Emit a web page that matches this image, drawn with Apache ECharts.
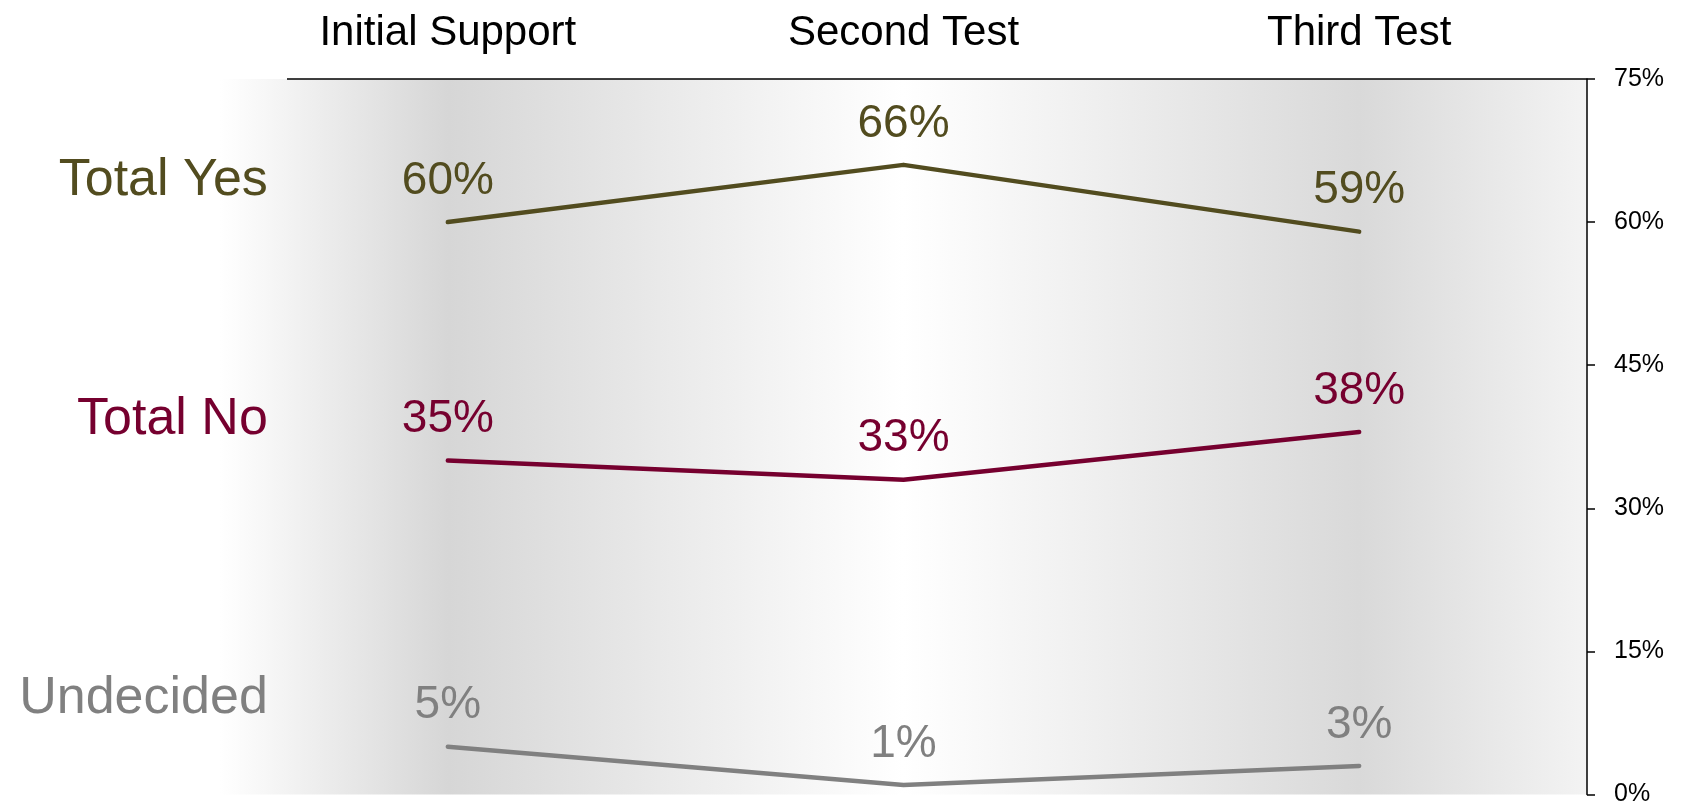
<!DOCTYPE html>
<html>
<head>
<meta charset="utf-8">
<script src="https://cdn.jsdelivr.net/npm/echarts@6/dist/echarts.min.js"></script>
<style>
html,body{margin:0;padding:0;background:#fff;}
#chart{width:1681px;height:807px;}
</style>
</head>
<body>
<div id="chart"></div>
<script>
const categories = ['Initial Support', 'Second Test', 'Third Test'];
const seriesNames = ['Total Yes', 'Total No', 'Undecided'];
const totalYes = [60, 66, 59];
const totalNo = [35, 33, 38];
const undecided = [5, 1, 3];
const yTicks = [0, 15, 30, 45, 60, 75];

const colors = ['#524c1f', '#76002f', '#808080'];
const nameOffsets = [-41, -41, -48];
const FONT = '"Liberation Sans", Arial, sans-serif';

const chart = echarts.init(document.getElementById('chart'), null, {renderer: 'canvas'});

function makeSeries(name, data, idx) {
  return {
    name: name,
    type: 'line',
    data: data,
    symbol: 'circle',
    symbolSize: 0,
    showSymbol: true,
    lineStyle: {color: colors[idx], width: 4.5, cap: 'round', join: 'round'},
    itemStyle: {color: colors[idx]},
    label: {
      show: true,
      position: 'top',
      distance: 18,
      formatter: '{c}%',
      color: colors[idx],
      fontSize: 46,
      fontFamily: FONT
    },
    markPoint: {
      symbol: 'circle',
      symbolSize: 0,
      silent: true,
      data: [{coord: [0, data[0]], value: name}],
      label: {
        show: true,
        position: 'left',
        distance: 180,
        offset: [0, nameOffsets[idx]],
        formatter: name,
        color: colors[idx],
        fontSize: 52,
        fontFamily: FONT
      }
    },
    animation: false
  };
}

chart.setOption({
  animation: false,
  backgroundColor: '#ffffff',
  grid: {
    left: 220, right: 94, top: 79, bottom: 10,
    show: true,
    borderWidth: 0,
    backgroundColor: new echarts.graphic.LinearGradient(0, 0, 1, 0, [
      {offset: 0, color: '#ffffff'},
      {offset: 0.167, color: '#d6d6d6'},
      {offset: 0.5, color: '#ffffff'},
      {offset: 0.833, color: '#d9d9d9'},
      {offset: 1, color: '#f3f3f3'}
    ])
  },
  xAxis: {
    type: 'category',
    position: 'top',
    data: categories,
    boundaryGap: true,
    axisLine: {show: false},
    axisTick: {show: false},
    axisLabel: {
      margin: 25,
      color: '#000',
      fontSize: 42,
      fontFamily: FONT
    },
    splitLine: {show: false}
  },
  yAxis: {
    type: 'value',
    position: 'right',
    min: 0, max: 75, interval: 15,
    axisLine: {show: true, lineStyle: {color: '#000', width: 1.5}},
    axisTick: {show: true, inside: false, length: 8, lineStyle: {color: '#000', width: 1.5}},
    axisLabel: {
      margin: 27,
      color: '#000',
      fontSize: 25,
      fontFamily: FONT,
      formatter: function (v) { return yTicks.indexOf(v) >= 0 ? v + '%' : ''; }
    },
    splitLine: {show: false}
  },
  graphic: [{
    type: 'line',
    z: 100,
    shape: {x1: 287, y1: 79, x2: 1587, y2: 79},
    style: {stroke: '#000', lineWidth: 1.5}
  }],
  series: [
    makeSeries(seriesNames[0], totalYes, 0),
    makeSeries(seriesNames[1], totalNo, 1),
    makeSeries(seriesNames[2], undecided, 2)
  ]
});
</script>
</body>
</html>
